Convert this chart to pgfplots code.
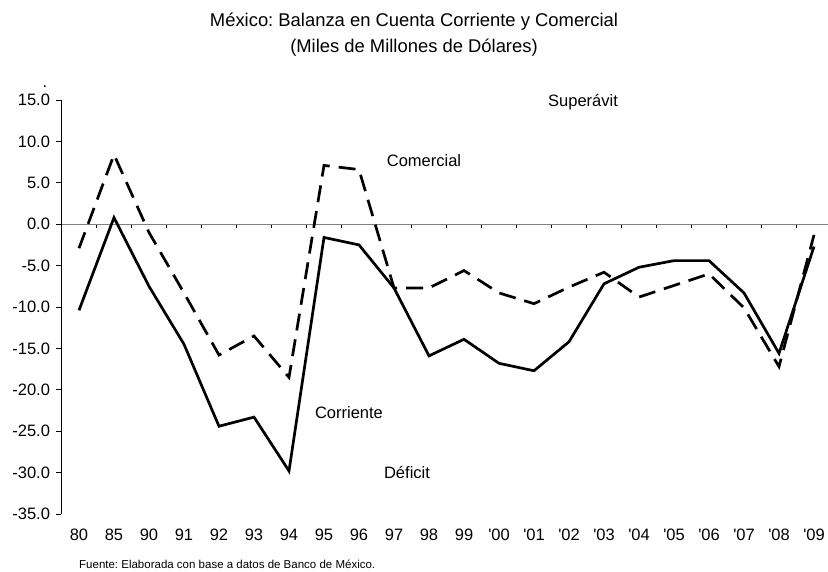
\documentclass[border=0pt]{standalone}
\usepackage{pgfplots}
\pgfplotsset{compat=1.18}
\usepackage{pgfplotstable}
\usepackage{fontspec}
\setmainfont{Liberation Sans}
\frenchspacing
\pgfplotstableread{
x corriente comercial
0  -10.4  -2.9
1    0.8   8.4
2   -7.5  -1.0
3  -14.5  -8.3
4  -24.4 -15.8
5  -23.3 -13.5
6  -29.8 -18.5
7   -1.6   7.1
8   -2.5   6.6
9   -7.7  -7.7
10 -15.9  -7.7
11 -13.9  -5.6
12 -16.8  -8.3
13 -17.7  -9.6
14 -14.2  -7.6
15  -7.2  -5.8
16  -5.2  -8.8
17  -4.4  -7.4
18  -4.4  -6.0
19  -8.3 -10.1
20 -15.6 -17.2
21  -2.7  -1.3
}\datatable
\newcommand{\q}{\textquotesingle}
\begin{document}
\begin{tikzpicture}
\path[use as bounding box] (0pt,0pt) rectangle (828pt,-571pt);
% zero line with ticks
\begin{axis}[
  at={(61.5pt,-514pt)}, anchor=south west,
  scale only axis, width=766.5pt, height=414pt,
  xmin=-0.5, xmax=21.4, ymin=-35, ymax=15,
  axis x line=middle, axis y line=none,
  x axis line style={-, draw=gray, line width=1.1pt},
  xtick={0.5,1.5,...,20.5}, xticklabels={},
  tick align=outside, major tick length=4pt,
  x tick style={black, line width=0.7pt},
]
\addplot[draw=none] coordinates {(0,0)};
\end{axis}
% main axis
\begin{axis}[
  at={(61.5pt,-514pt)}, anchor=south west,
  scale only axis, width=766.5pt, height=414pt,
  xmin=-0.5, xmax=21.4, ymin=-35, ymax=15,
  axis y line*=left, axis x line*=bottom,
  x axis line style={draw=none},
  y axis line style={-, line width=0.8pt},
  xtick={0,...,21},
  xticklabels={80,85,90,91,92,93,94,95,96,97,98,99,\q00,\q01,\q02,\q03,\q04,\q05,\q06,\q07,\q08,\q09},
  x tick style={draw=none},
  ytick={-35,-30,...,15},
  tick align=outside, major tick length=5pt,
  y tick style={black, line width=0.8pt},
  yticklabel={\pgfmathprintnumber[fixed,fixed zerofill,precision=1,assume math mode=true]{\tick}},
  every tick label/.append style={font=\fontsize{16.5}{19}\selectfont},
  xticklabel style={yshift=-6pt},
  yticklabel style={xshift=-3pt},
  clip=false,
]
\addplot[black, line width=2.7pt, dash pattern=on 17pt off 9pt] table[x=x, y=comercial] {\datatable};
\addplot[black, line width=2.7pt] table[x=x, y=corriente] {\datatable};
\end{axis}
\node[anchor=base, font=\fontsize{18.4}{22}\selectfont] at (414pt,-26pt) {México: Balanza en Cuenta Corriente y Comercial};
\node[anchor=base, font=\fontsize{18.4}{22}\selectfont] at (414pt,-52pt) {(Miles de Millones de Dólares)};
\node[anchor=base, font=\fontsize{16.5}{19}\selectfont] at (583pt,-106pt) {Superávit};
\node[anchor=base, font=\fontsize{16.5}{19}\selectfont] at (424pt,-166pt) {Comercial};
\node[anchor=base, font=\fontsize{16.5}{19}\selectfont] at (349pt,-418pt) {Corriente};
\node[anchor=base, font=\fontsize{16.5}{19}\selectfont] at (407pt,-478pt) {Déficit};
\node[anchor=base west, inner sep=0pt, font=\fontsize{11.5}{14}\selectfont] at (79pt,-568pt) {Fuente: Elaborada con base a datos de Banco de México.};
\node[anchor=base, inner sep=0pt, font=\fontsize{16.5}{19}\selectfont] at (45pt,-87.5pt) {.};
\end{tikzpicture}
\end{document}
